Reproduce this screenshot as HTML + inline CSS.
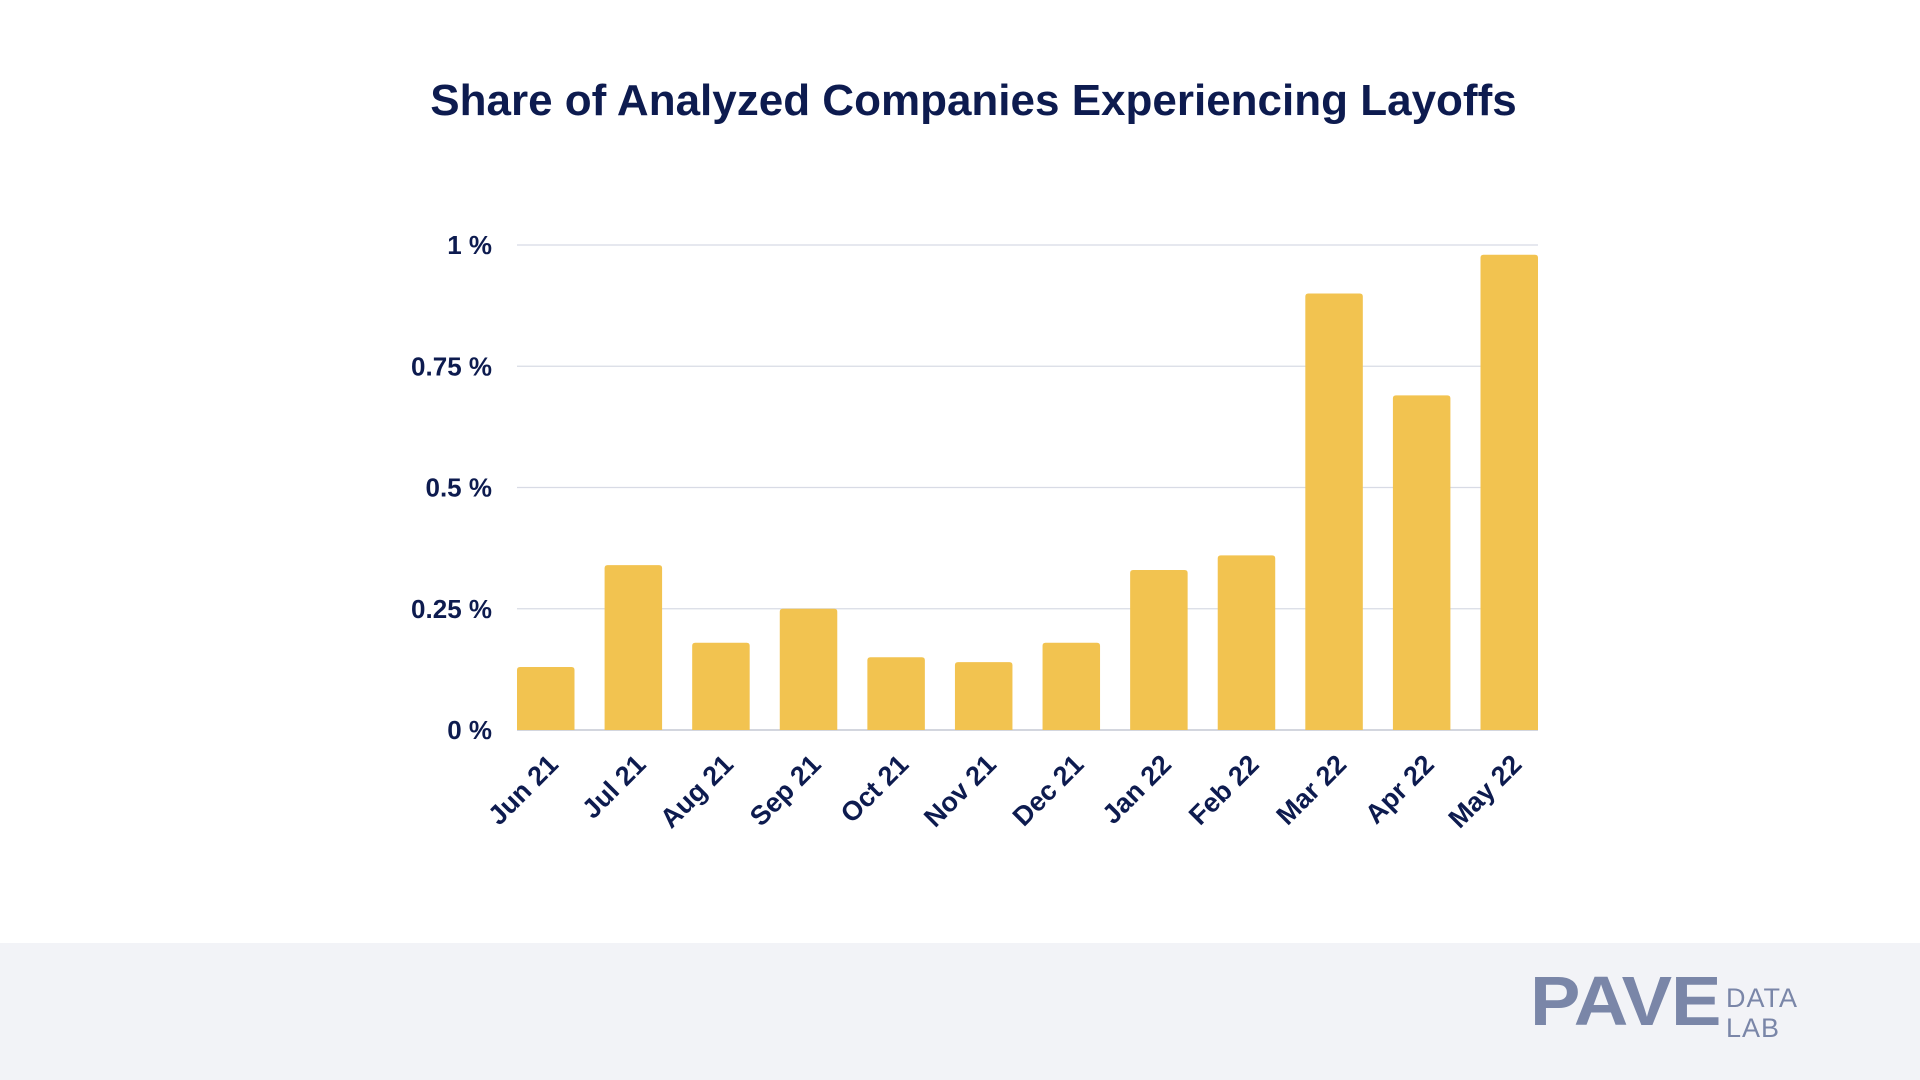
<!DOCTYPE html>
<html><head><meta charset="utf-8"><style>
html,body{margin:0;padding:0;width:1920px;height:1080px;background:#fff;overflow:hidden;font-family:"Liberation Sans",sans-serif}
#footer{position:absolute;left:0;top:943px;width:1920px;height:137px;background:#f2f3f7}
#title{position:absolute;left:0;width:1947px;top:76px;text-align:center;font-size:44px;font-weight:bold;color:#0d1b4f}
</style></head><body>
<div id="title">Share of Analyzed Companies Experiencing Layoffs</div>
<svg id="chart" width="1920" height="943" style="position:absolute;left:0;top:0"></svg>
<div id="footer">
<div style="position:absolute;left:1530px;top:23px;font-size:70px;font-weight:900;color:#7a86a8;letter-spacing:-1px;line-height:70px;transform:scaleX(1.08);transform-origin:left top">PAVE</div>
<div style="position:absolute;left:1726px;top:40px;font-size:27px;color:#7a86a8;line-height:30px;letter-spacing:1px">DATA<br>LAB</div>
</div>
<script>
const categories=["Jun 21","Jul 21","Aug 21","Sep 21","Oct 21","Nov 21","Dec 21","Jan 22","Feb 22","Mar 22","Apr 22","May 22"];
const values=[0.13,0.34,0.18,0.25,0.15,0.14,0.18,0.33,0.36,0.90,0.69,0.98];
const ticks=[0,0.25,0.5,0.75,1];
const tickLabels=["0 %","0.25 %","0.5 %","0.75 %","1 %"];
const NS="http://www.w3.org/2000/svg";
const svg=document.getElementById('chart');
const L=517,R=1538,T=245,B=730,BW=57.5;
const step=(R-L-BW)/(categories.length-1);
const y=v=>B-(v/1)*(B-T);
const x=i=>L+i*step;
function mk(t,a){const e=document.createElementNS(NS,t);for(const k in a)e.setAttribute(k,a[k]);svg.appendChild(e);return e;}
ticks.forEach((t,i)=>{
  const g=mk('line',{x1:L,x2:R,y1:y(t),y2:y(t),stroke:i==0?'#b9bdc9':'#d8dbe5','stroke-width':1.3});
  
  
  const tx=mk('text',{x:492,y:y(t)+9,'text-anchor':'end','font-size':26,'font-weight':'bold',fill:'#0d1b4f','font-family':'Liberation Sans, sans-serif'});
  tx.textContent=tickLabels[i];
  
  
});
values.forEach((v,i)=>{
  const r=mk('path',{d:`M${x(i)},${B}V${y(v)+3}Q${x(i)},${y(v)} ${x(i)+3},${y(v)}H${x(i)+BW-3}Q${x(i)+BW},${y(v)} ${x(i)+BW},${y(v)+3}V${B}Z`,fill:'#f2c350'});
  
  
  const cx=x(i)+BW/2+14, cy=B+36;
  const t=mk('text',{x:cx,y:cy,'text-anchor':'end','font-size':27,'font-weight':'bold',fill:'#0d1b4f','font-family':'Liberation Sans, sans-serif',transform:`rotate(-45 ${cx} ${cy})`});
  t.textContent=categories[i];
  
  
});
</script>
</body></html>
